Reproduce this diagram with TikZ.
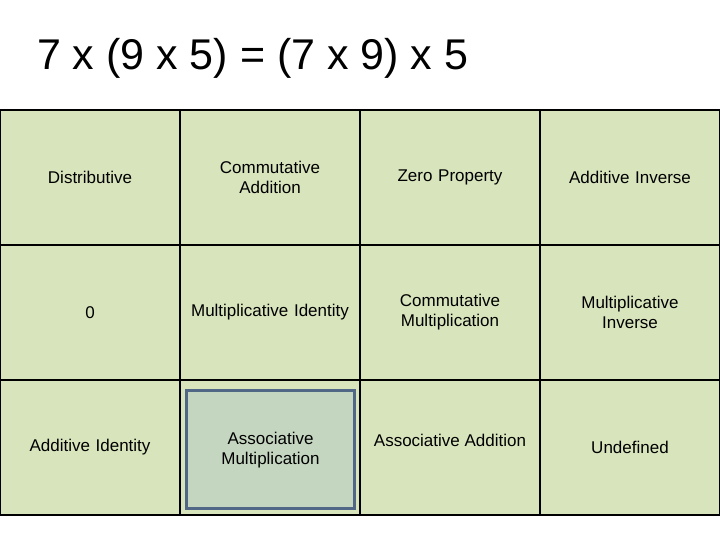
\documentclass[tikz,border=0pt]{standalone}
\usepackage{fontspec}
\setmainfont{Liberation Sans}
\definecolor{cellgreen}{RGB}{216,228,188}
\definecolor{pickgreen}{RGB}{196,214,192}
\definecolor{pickblue}{RGB}{80,104,134}
\tikzset{
  cell/.style={rectangle, draw=black, line width=1pt, fill=cellgreen, minimum width=90pt, minimum height=67.5pt, inner sep=0pt, text width=84pt, align=center, font=\fontsize{8.5pt}{10pt}\selectfont},
  pick/.style={rectangle, draw=pickblue, line width=1.5pt, fill=pickgreen, minimum width=84pt, minimum height=59pt, inner sep=0pt, text width=80pt, align=center, font=\fontsize{8.5pt}{10pt}\selectfont}
}
\begin{document}
\begin{tikzpicture}[x=0.5pt,y=0.5pt]
\useasboundingbox (0,0) rectangle (720,540);
\fill[white] (0,0) rectangle (720,540);
\node[anchor=base west, font=\fontsize{21.5pt}{24pt}\selectfont](title) at (30,470) {7 x (9 x 5) = (7 x 9) x 5};
% row 1
\node[cell](c11) at (90,362.5) {Distributive};
\node[cell](c12) at (270,362.5) {Commutative\\Addition};
\node[cell](c13) at (450,362.5) {Zero Property};
\node[cell](c14) at (630,362.5) {Additive Inverse};
% row 2
\node[cell](c21) at (90,227.5) {0};
\node[cell](c22) at (270,227.5) {Multiplicative Identity};
\node[cell](c23) at (450,227.5) {Commutative\\Multiplication};
\node[cell](c24) at (630,227.5) {Multiplicative\\Inverse};
% row 3
\node[cell](c31) at (90,92.5) {Additive Identity};
\node[cell](c32) at (270,92.5) {};
\node[cell](c33) at (450,92.5) {};
\node[cell](c34) at (630,92.5) {Undefined};
\node[anchor=north, font=\fontsize{8.5pt}{10pt}\selectfont](c33t) at (450,113) {Associative Addition};
\node[pick](p32) at (270.5,90) {Associative\\Multiplication};
\end{tikzpicture}
\end{document}
